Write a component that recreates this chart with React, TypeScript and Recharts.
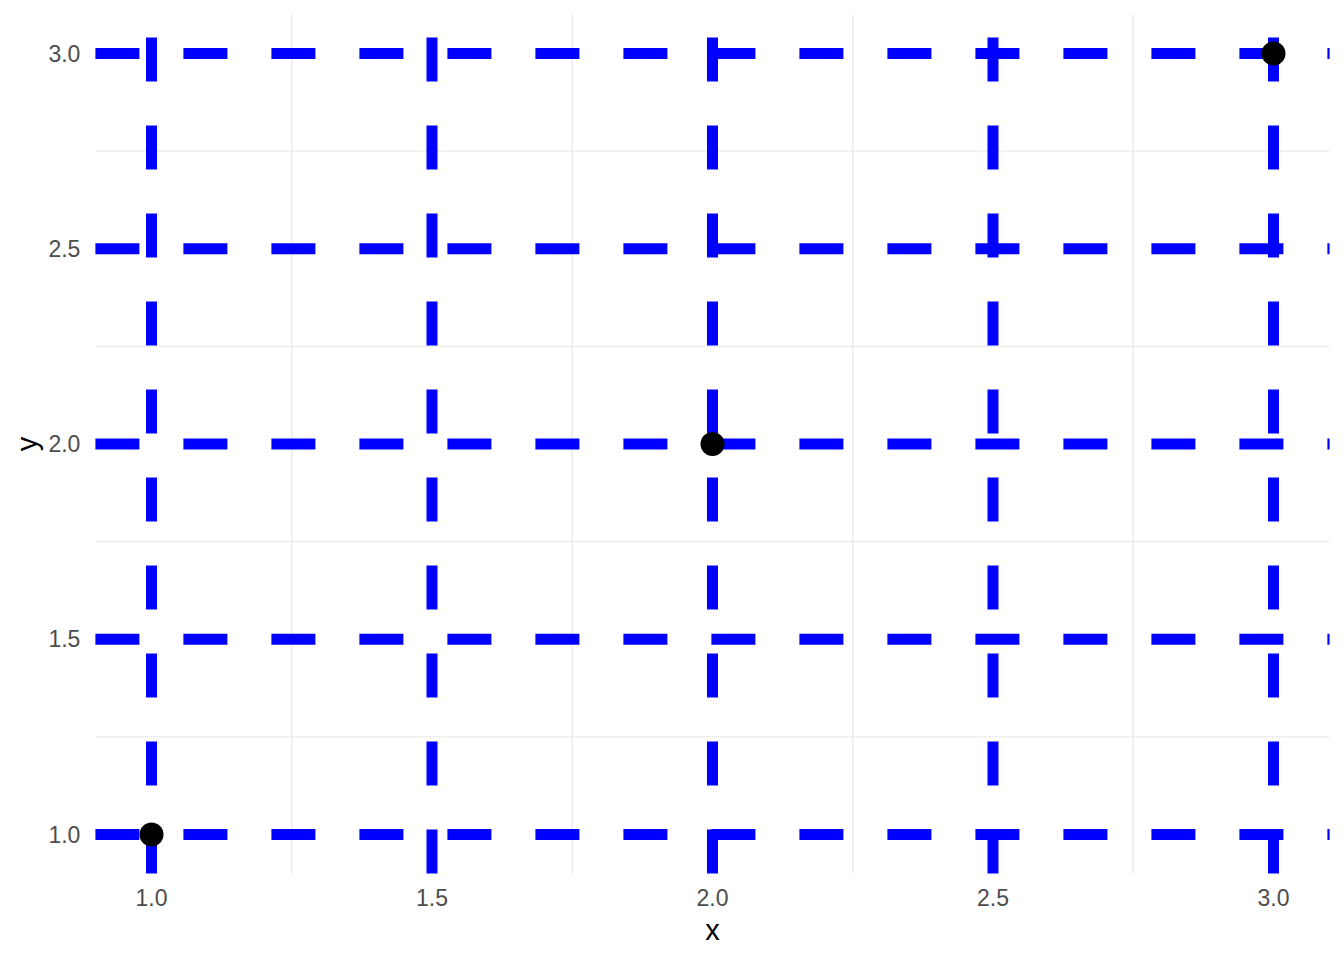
import React from "react";
import { ScatterChart, Scatter, XAxis, YAxis, ReferenceLine, Label } from "recharts";

const xValues = [1, 2, 3];
const yValues = [1, 2, 3];
const majorBreaks = [1, 1.5, 2, 2.5, 3];
const minorBreaks = [1.25, 1.75, 2.25, 2.75];
const domainMin = 0.9;
const domainMax = 3.1;

const points = xValues.map((x, i) => ({ x, y: yValues[i] }));

const FONT = '"Liberation Sans", Arial, sans-serif';
const BLUE = "#0000FF";

const Dot = (props: any) => <circle cx={props.cx} cy={props.cy} r={12} fill="#000000" />;

const YTitle = (props: any) => {
  const vb = props.viewBox;
  const cx = vb.x + 37;
  const cy = vb.y + vb.height / 2;
  return (
    <text x={cx} y={cy} transform={`rotate(-90, ${cx}, ${cy})`} textAnchor="middle" fontSize={29} fontFamily={FONT} fill="#000000">
      y
    </text>
  );
};

const XTitle = (props: any) => {
  const vb = props.viewBox;
  return (
    <text x={vb.x + vb.width / 2} y={vb.y + vb.height - 20} textAnchor="middle" fontSize={29} fontFamily={FONT} fill="#000000">
      x
    </text>
  );
};

export default function App() {
  return (
    <div style={{ position: "absolute", left: 0, top: 0, width: 1344, height: 960, background: "#fff" }}>
      <ScatterChart width={1344} height={960} margin={{ top: 14.45, right: 14.4, left: 0.4, bottom: 0 }}>
        <XAxis
          type="number"
          dataKey="x"
          domain={[domainMin, domainMax]}
          ticks={majorBreaks}
          tickFormatter={(v: number) => v.toFixed(1)}
          axisLine={false}
          tickLine={false}
          tickSize={0}
          tickMargin={16}
          height={86.45}
          tick={{ fill: "#4D4D4D", fontSize: 23, fontFamily: FONT }}
          allowDataOverflow
        >
          <Label content={<XTitle />} />
        </XAxis>
        <YAxis
          type="number"
          dataKey="y"
          domain={[domainMin, domainMax]}
          ticks={majorBreaks}
          tickFormatter={(v: number) => v.toFixed(1)}
          axisLine={false}
          tickLine={false}
          tickSize={0}
          tickMargin={15}
          width={95}
          tick={{ fill: "#4D4D4D", fontSize: 23, fontFamily: FONT }}
          allowDataOverflow
        >
          <Label content={<YTitle />} />
        </YAxis>
        {minorBreaks.map((v) => (
          <ReferenceLine key={`mx${v}`} segment={[{ x: v, y: domainMin }, { x: v, y: domainMax }]} stroke="#EBEBEB" strokeWidth={1.4} ifOverflow="visible" />
        ))}
        {minorBreaks.map((v) => (
          <ReferenceLine key={`my${v}`} segment={[{ x: domainMin, y: v }, { x: domainMax, y: v }]} stroke="#EBEBEB" strokeWidth={1.4} ifOverflow="visible" />
        ))}
        {majorBreaks.map((v) => (
          <ReferenceLine key={`Mx${v}`} segment={[{ x: v, y: domainMin }, { x: v, y: domainMax }]} stroke={BLUE} strokeWidth={11} strokeDasharray="44 44" ifOverflow="visible" />
        ))}
        {majorBreaks.map((v) => (
          <ReferenceLine key={`My${v}`} segment={[{ x: domainMin, y: v }, { x: domainMax, y: v }]} stroke={BLUE} strokeWidth={11} strokeDasharray="44 44" ifOverflow="visible" />
        ))}
        <Scatter data={points} shape={<Dot />} isAnimationActive={false} />
      </ScatterChart>
    </div>
  );
}
